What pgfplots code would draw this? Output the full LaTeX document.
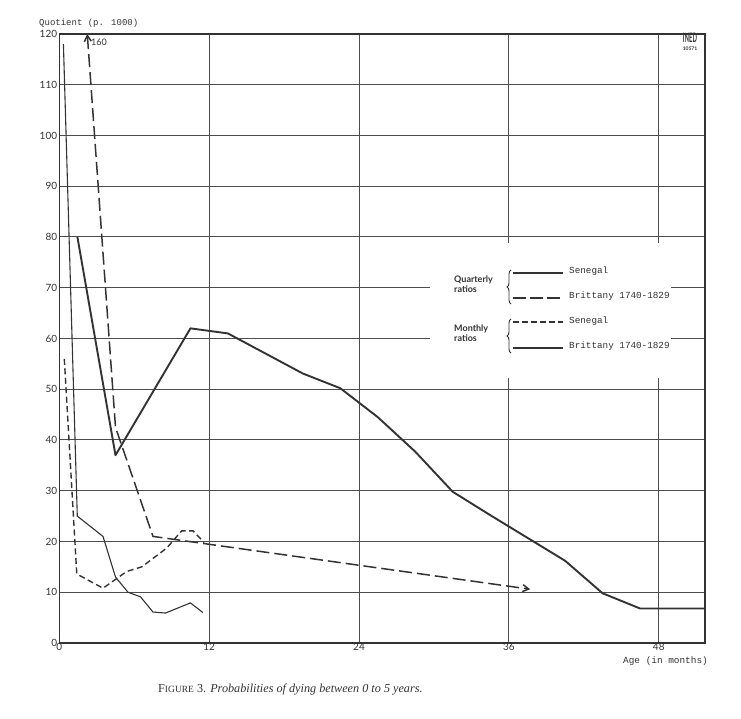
\documentclass[border=0pt]{standalone}
\usepackage{fontspec}
\setmainfont{Liberation Serif}
\newfontfamily\lato{Lato}
\newfontfamily\mono{Liberation Mono}
\usepackage{pgfplots}
\pgfplotsset{compat=1.18}
\usetikzlibrary{arrows.meta,decorations.pathreplacing}
\definecolor{ink}{HTML}{333333}
\definecolor{gridc}{HTML}{4D4D4D}

\begin{document}
\begin{tikzpicture}
\path[use as bounding box] (0,0) rectangle (741pt,718pt);
\begin{axis}[
  at={(59.3pt,75pt)}, anchor=south west,
  scale only axis, width=645.7pt, height=609pt,
  xmin=0, xmax=51.7, ymin=0, ymax=120,
  xtick={0,12,24,36,48}, ytick={0,10,...,120},
  grid=major, major grid style={gridc, line width=1pt},
  axis line style={ink, line width=1.4pt},
  tick style={draw=none},
  tick label style={font=\lato\fontsize{10}{10}\selectfont, text=ink},
  /pgf/number format/assume math mode=true,
  xticklabel style={inner sep=0.5pt},
  yticklabel style={inner sep=2pt},
  clip=false,
]
% legend area blanking
\fill[white] (axis cs:29.7,52.2) rectangle (axis cs:49.0,78.8);

% Quarterly ratios, Senegal (thick solid)
\addplot[ink, line width=1.9pt, line join=round] coordinates {
 (1.45,80) (4.5,37) (10.5,62) (13.5,61) (19.5,53.1) (22.5,50.2)
 (25.5,44.5) (28.5,37.7) (31.5,29.8) (34.5,25.2) (37.5,20.7) (40.5,16.2)
 (43.5,9.8) (46.5,6.8) (51.7,6.8)};

% Quarterly ratios, Brittany 1740-1829 (long dash), arrows at both ends
\addplot[ink, line width=1.5pt, dash pattern=on 13pt off 5pt, {Straight Barb[length=6pt,width=7pt]}-{Straight Barb[length=6pt,width=7pt]}] coordinates {
 (2.24,120) (4.5,42.5) (7.5,21) (37.7,10.6)};

% Monthly ratios, Senegal (short dash)
\addplot[ink, line width=1.4pt, dash pattern=on 6pt off 3.5pt] coordinates {
 (0.4,56) (1.4,13.6) (3.5,10.8) (5.4,14.1) (6.6,15) (8.6,18.7)
 (9.8,22.1) (10.7,22.1) (11.6,19.8)};

% Monthly ratios, Brittany 1740-1829 (thin solid)
\addplot[ink, line width=1.1pt] coordinates {
 (0.33,118) (1.44,25) (3.5,21) (4.5,13) (5.5,10) (6.5,9.1) (7.5,6.1)
 (8.5,5.9) (10.5,7.9) (11.5,6.0)};

\end{axis}

\begin{scope}[x=1pt, y=-1pt, shift={(0pt,718pt)}]
  % axis title and x label
  \node[anchor=west, inner sep=0pt, text=ink, font=\mono\fontsize{9}{9}\selectfont] at (39,23) {Quotient (p. 1000)};
  \node[anchor=west, inner sep=0pt, text=ink, font=\mono\fontsize{9.4}{9.4}\selectfont] at (623,661) {Age (in months)};
  % 160 label
  \node[anchor=west, inner sep=0pt, text=ink, font=\lato\fontsize{9}{9}\selectfont] at (91,42) {160};
  % INED stamp
  \node[inner sep=0pt, text=ink, font=\lato\bfseries\fontsize{13}{13}\selectfont, xscale=0.45] at (690,37.5) {INED};
  \node[inner sep=0pt, text=ink, font=\lato\bfseries\fontsize{5}{5}\selectfont] at (690,49) {10571};

  % legend
  \node[anchor=west, inner sep=0pt, align=left, text=ink, font=\lato\bfseries\fontsize{9}{10.5}\selectfont] at (454,284) {Quarterly\\ratios};
  \node[anchor=west, inner sep=0pt, align=left, text=ink, font=\lato\bfseries\fontsize{9}{10.5}\selectfont] at (454,333) {Monthly\\ratios};
  \draw[ink, line width=0.9pt, decorate, decoration={brace, amplitude=4pt}] (511,304) -- (511,270);
  \draw[ink, line width=0.9pt, decorate, decoration={brace, amplitude=4pt}] (511,353) -- (511,319);

  \draw[ink, line width=1.9pt] (513,273) -- (563,273);
  \draw[ink, line width=1.5pt, dash pattern=on 13pt off 4pt] (513,298) -- (563,298);
  \draw[ink, line width=1.4pt, dash pattern=on 6pt off 3pt] (513,322) -- (563,322);
  \draw[ink, line width=1.1pt] (513,348) -- (563,348);

  \begin{scope}[every node/.style={anchor=west, inner sep=0pt, text=ink, font=\mono\fontsize{9.3}{9.3}\selectfont}]
    \node at (569,271) {Senegal};
    \node at (569,296) {Brittany 1740-1829};
    \node at (569,321) {Senegal};
    \node at (569,346) {Brittany 1740-1829};
  \end{scope}

  % caption
  \node[anchor=west, inner sep=0pt, text=ink, font=\fontsize{12.2}{13}\selectfont] at (158,690)
    {F{\fontsize{9.5}{10}\selectfont IGURE} 3. \textit{Probabilities of dying between 0 to 5 years.}};
\end{scope}
\end{tikzpicture}
\end{document}
